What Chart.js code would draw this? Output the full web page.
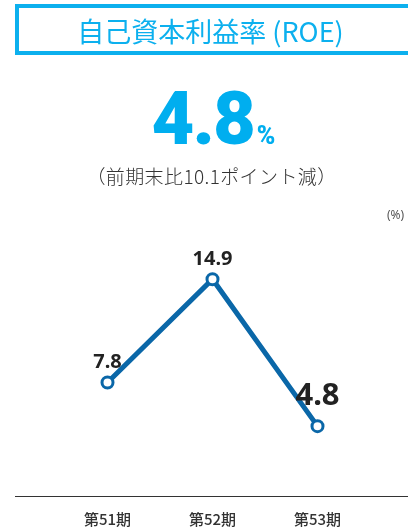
<!DOCTYPE html>
<html><head><meta charset="utf-8">
<script src="https://cdn.jsdelivr.net/npm/chart.js@4.4.1/dist/chart.umd.min.js"></script>
<style>
html,body{margin:0;padding:0;background:#fff;}
body{width:408px;height:529px;overflow:hidden;position:relative;font-family:"Noto Sans CJK JP","Noto Sans",sans-serif;}
#box{position:absolute;left:15px;top:4px;width:410px;height:51px;border:4px solid #0cb0ee;box-sizing:border-box;}
#title{position:absolute;left:0;width:421px;top:16px;height:30px;line-height:30px;text-align:center;font-size:27px;color:#0cb0ee;font-weight:400;white-space:nowrap;}
#big{position:absolute;left:0;width:427px;top:83px;line-height:72px;text-align:center;color:#00aeef;font-family:Roboto,sans-serif;font-weight:900;white-space:nowrap;}
#big .n{font-size:74px;letter-spacing:-2px;}
#big .p{font-size:25px;margin-left:3px;}
#sub{position:absolute;left:0;width:423px;top:164px;line-height:24px;text-align:center;font-size:19px;letter-spacing:0.4px;color:#333;font-weight:300;white-space:nowrap;}
#unit{position:absolute;left:387px;top:206px;font-size:12px;color:#555;font-family:"Noto Sans","DejaVu Sans",sans-serif;}
#c{position:absolute;left:0;top:0;}
</style></head>
<body>
<canvas id="c" width="408" height="545"></canvas>
<div id="box"></div>
<div id="title">自己資本利益率 (ROE)</div>
<div id="big"><span class="n">4.8</span><span class="p">%</span></div>
<div id="sub">（前期末比10.1ポイント減）</div>
<div id="unit">(%)</div>
<script>
const categories = ["第51期", "第52期", "第53期"];
const roeValues = [7.8, 14.9, 4.8];
const yMin = 0;
const yMax = 20;

const lineColor = "#0a67a8";

const labelPlugin = {
  id: "valueLabels",
  afterDatasetsDraw(chart, args, opts) {
    const ctx = chart.ctx;
    const meta = chart.getDatasetMeta(0);
    const ds = chart.data.datasets[0];
    ctx.save();
    ctx.textAlign = "center";
    ctx.textBaseline = "middle";
    ctx.fillStyle = "#222";
    meta.data.forEach((pt, i) => {
      const last = i === meta.data.length - 1;
      const size = last ? opts.lastSize : opts.size;
      const dy = last ? opts.lastOffset : opts.offset;
      ctx.font = "bold " + size + "px 'Noto Sans', sans-serif";
      ctx.fillText(ds.data[i].toFixed(1), pt.x, pt.y + dy);
    });
    ctx.restore();
  }
};

const baselinePlugin = {
  id: "baseline",
  beforeDatasetsDraw(chart, args, opts) {
    const ctx = chart.ctx;
    const y = Math.round(chart.scales.y.getPixelForValue(yMin)) + 0.5;
    ctx.save();
    ctx.strokeStyle = "#333";
    ctx.lineWidth = 1.2;
    ctx.beginPath();
    ctx.moveTo(opts.left, y);
    ctx.lineTo(chart.width, y);
    ctx.stroke();
    ctx.restore();
  }
};

new Chart(document.getElementById("c"), {
  type: "line",
  data: {
    labels: categories,
    datasets: [{
      data: roeValues,
      borderColor: lineColor,
      borderWidth: 5,
      pointRadius: 5.5,
      pointBorderWidth: 3,
      pointBackgroundColor: "#fff",
      pointBorderColor: lineColor,
      tension: 0,
      clip: false
    }]
  },
  options: {
    responsive: false,
    animation: false,
    devicePixelRatio: 1,
    layout: { padding: { left: 55, right: 38, top: 205, bottom: 3 } },
    plugins: {
      legend: { display: false },
      tooltip: { enabled: false },
      valueLabels: { size: 20, offset: -20, lastSize: 31, lastOffset: -30 },
      baseline: { left: 15 }
    },
    scales: {
      x: {
        offset: true,
        grid: { display: false, drawTicks: false },
        border: { display: false },
        ticks: { padding: 14, color: "#333", font: { family: "'Noto Sans CJK JP'", size: 15, weight: 500 } }
      },
      y: {
        display: false,
        min: yMin,
        max: yMax
      }
    }
  },
  plugins: [labelPlugin, baselinePlugin]
});
</script>
</body></html>
